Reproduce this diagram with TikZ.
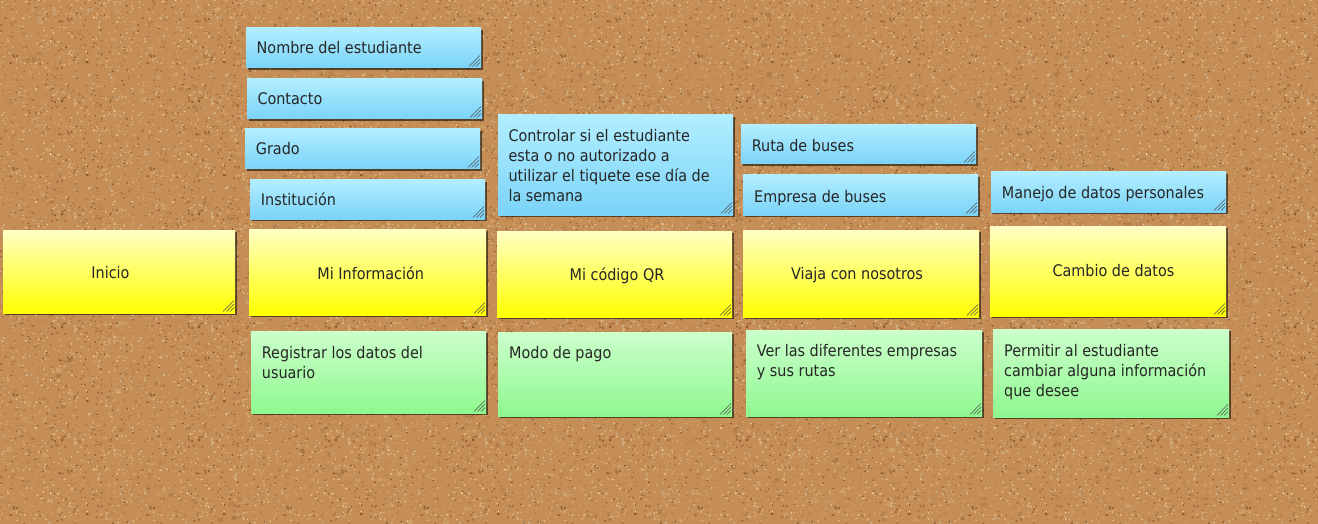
\documentclass[tikz,border=0pt]{standalone}
\usepackage{fontspec}
\setmainfont{DejaVu Sans Condensed}
\usetikzlibrary{shadows,patterns}
\definecolor{cork}{HTML}{C48E56}
\definecolor{speck1}{HTML}{DDB07A}
\definecolor{speck2}{HTML}{A26A3A}
\definecolor{speck3}{HTML}{8A5A30}
\definecolor{speck4}{HTML}{D0B592}
\definecolor{speck5}{HTML}{B57F4A}
\definecolor{speck6}{HTML}{E6C490}
\definecolor{bluetop}{HTML}{B2EEFF}
\definecolor{bluebot}{HTML}{7BD3F8}
\definecolor{yeltop}{HTML}{FFFFC4}
\definecolor{yelbot}{HTML}{FFFF00}
\definecolor{grntop}{HTML}{CCFFCC}
\definecolor{grnbot}{HTML}{8FF88F}
\definecolor{txtc}{HTML}{262626}
\definecolor{hatchc}{HTML}{505050}
\pgfmathsetseed{4711}
\pgfdeclarepatterninherentlycolored{corkpat}{\pgfpoint{0pt}{0pt}}{\pgfpoint{137pt}{113pt}}{\pgfpoint{137pt}{113pt}}{%
  \pgfsetfillcolor{cork}%
  \pgfpathrectangle{\pgfpointorigin}{\pgfpoint{137pt}{113pt}}\pgfusepath{fill}%
  \foreach \c in {1,...,6}{%
    \pgfsetfillcolor{speck\c}%
    \foreach \i in {1,...,120}{%
      \pgfmathsetmacro\px{rnd*135.5}\pgfmathsetmacro\py{rnd*111.5}%
      \pgfmathsetmacro\pw{0.6+rnd*1.5}\pgfmathsetmacro\ph{0.6+rnd*1.3}%
      \pgfpathrectangle{\pgfpoint{\px pt}{\py pt}}{\pgfpoint{\pw pt}{\ph pt}}\pgfusepath{fill}%
    }%
  }%
}
\begin{document}
\begin{tikzpicture}[x=1pt,y=-1pt,
  note/.style={draw=none, anchor=north west, inner sep=0pt, outer sep=0pt,
    drop shadow={shadow xshift=1.6pt, shadow yshift=-1.6pt, opacity=0.55, fill=black},
    path picture={\foreach \a in {4,7.5,11}{\draw[hatchc, line width=0.5pt]
      ([xshift=-\a pt-1pt, yshift=1.5pt]path picture bounding box.south east) --
      ([xshift=-1pt, yshift=\a pt+1.5pt]path picture bounding box.south east);}}},
  bluenote/.style={note, top color=bluetop, bottom color=bluebot},
  yelnote/.style={note, top color=yeltop, bottom color=yelbot},
  grnnote/.style={note, top color=grntop, bottom color=grnbot},
  txt/.style={inner sep=0pt, text=txtc, font=\fontsize{16}{20}\selectfont, align=left},
  ctxt/.style={inner sep=0pt, text=txtc, font=\fontsize{16}{20}\selectfont, anchor=base}
]
\useasboundingbox (0,0) rectangle (1318,524);
% cork background
\fill[cork] (0,0) rectangle (1318,524);
\fill[pattern=corkpat] (0,0) rectangle (1318,524);
\foreach \c in {1,...,6}{
  \fill[fill=speck\c, opacity=0.3] \foreach \i in {1,...,220}{
    ({rnd*1318},{rnd*524}) rectangle +({2+rnd*4},{2+rnd*3})};
}
% blue notes
\node[bluenote, minimum width=235pt, minimum height=40pt] (b1) at (246,28) {};
\node[bluenote, minimum width=235pt, minimum height=40pt] (b2) at (247,79) {};
\node[bluenote, minimum width=235pt, minimum height=40pt] (b3) at (245,129) {};
\node[bluenote, minimum width=235pt, minimum height=39pt] (b4) at (250,180) {};
\node[bluenote, minimum width=235pt, minimum height=100pt] (b5) at (498,115) {};
\node[bluenote, minimum width=235pt, minimum height=39pt] (b6) at (741,125) {};
\node[bluenote, minimum width=235pt, minimum height=40pt] (b7) at (743,175) {};
\node[bluenote, minimum width=235pt, minimum height=40pt] (b8) at (991,172) {};
% yellow notes
\node[yelnote, minimum width=232pt, minimum height=83pt] (y1) at (3,230) {};
\node[yelnote, minimum width=237pt, minimum height=86pt] (y2) at (249,229) {};
\node[yelnote, minimum width=235pt, minimum height=86pt] (y3) at (497,231) {};
\node[yelnote, minimum width=236pt, minimum height=87pt] (y4) at (743,230) {};
\node[yelnote, minimum width=236pt, minimum height=90pt] (y5) at (990,226) {};
% green notes
\node[grnnote, minimum width=235pt, minimum height=82pt] (g1) at (251,331) {};
\node[grnnote, minimum width=234pt, minimum height=84pt] (g2) at (498,332) {};
\node[grnnote, minimum width=236pt, minimum height=86pt] (g3) at (746,330) {};
\node[grnnote, minimum width=236pt, minimum height=88pt] (g4) at (993,329) {};
% texts
\node[txt, anchor=base west] (tb1) at (256.5,53.5) {Nombre del estudiante};
\node[txt, anchor=base west] (tb2) at (257.3,105) {Contacto};
\node[txt, anchor=base west] (tb3) at (255.7,155) {Grado};
\node[txt, anchor=base west] (tb4) at (260.7,206) {Institución};
\node[txt, anchor=north west] (tb5) at (508.3,127.7) {\rule{0pt}{14pt}Controlar si el estudiante\\esta o no autorizado a\\utilizar el tiquete ese día de\\la semana};
\node[txt, anchor=base west] (tb6) at (751.7,152) {Ruta de buses};
\node[txt, anchor=base west] (tb7) at (754,202) {Empresa de buses};
\node[txt, anchor=base west] (tb8) at (1001.7,199) {Manejo de datos personales};
\node[ctxt] (ty1) at (110.5,278.7) {Inicio};
\node[ctxt] (ty2) at (370.7,279) {Mi Información};
\node[ctxt] (ty3) at (617,280.3) {Mi código QR};
\node[ctxt] (ty4) at (857,279.7) {Viaja con nosotros};
\node[ctxt] (ty5) at (1113.5,276) {Cambio de datos};
\node[txt, anchor=north west] (tg1) at (261.7,344) {\rule{0pt}{14pt}Registrar los datos del\\usuario};
\node[txt, anchor=base west] (tg2) at (509,358.7) {Modo de pago};
\node[txt, anchor=north west] (tg3) at (756.7,342.7) {\rule{0pt}{14pt}Ver las diferentes empresas\\y sus rutas};
\node[txt, anchor=north west] (tg4) at (1004,342) {\rule{0pt}{14pt}Permitir al estudiante\\cambiar alguna información\\que desee};
\end{tikzpicture}
\end{document}
